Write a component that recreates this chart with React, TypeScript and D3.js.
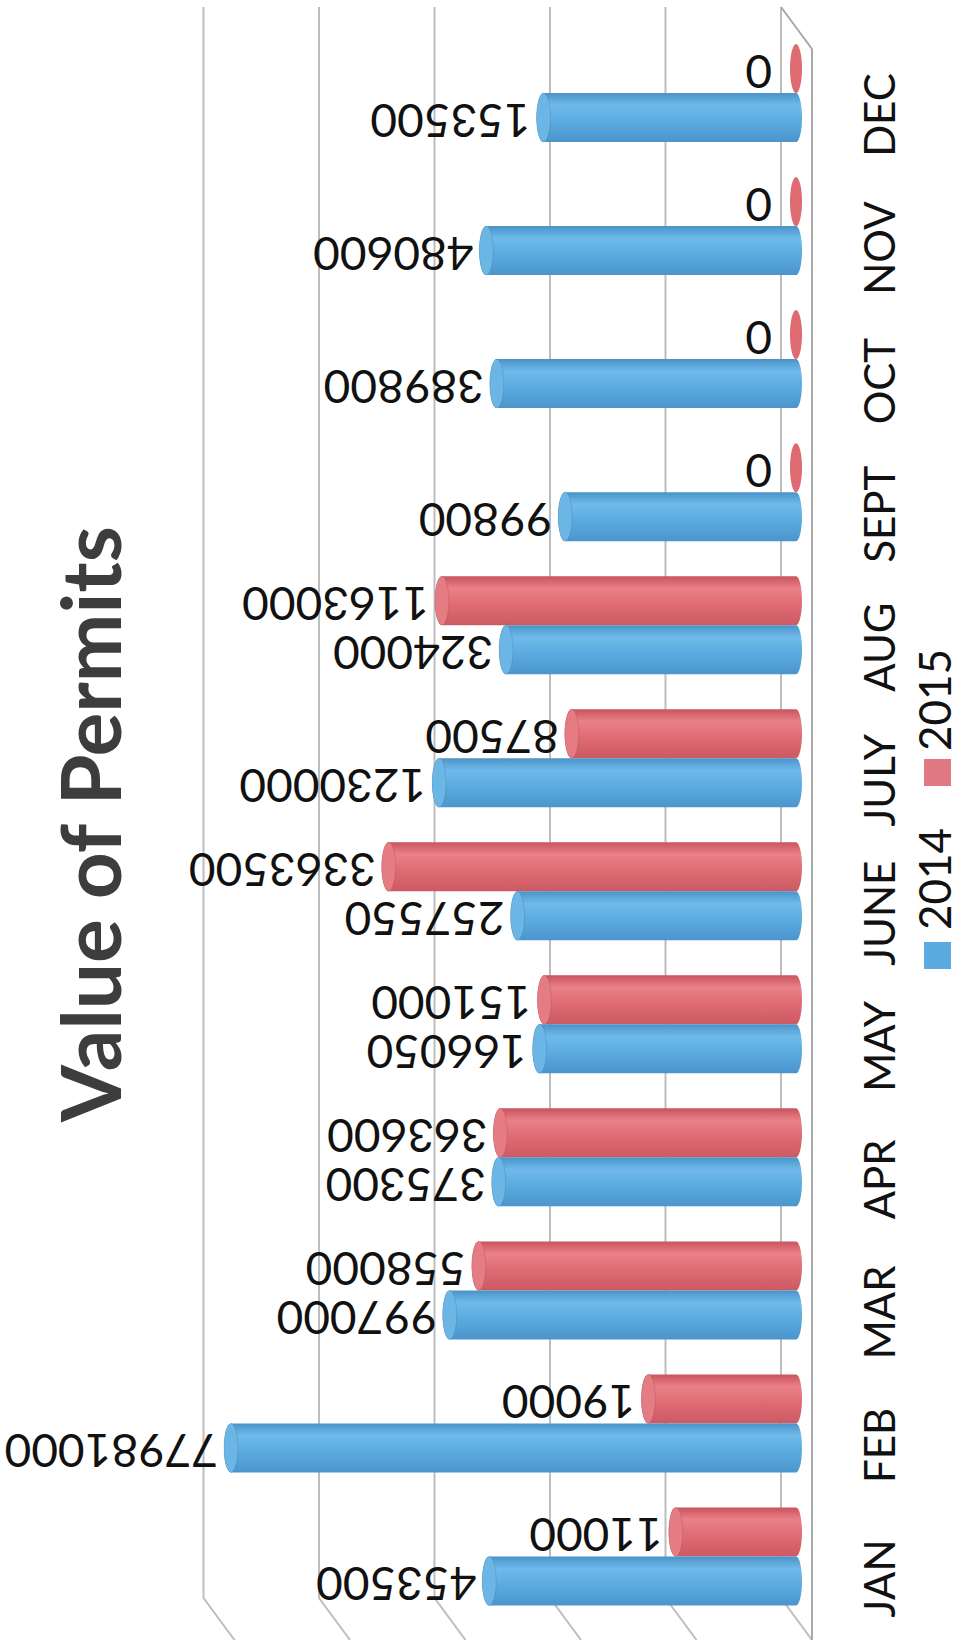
import React from 'react';
import * as d3 from 'd3';

const months = ['JAN', 'FEB', 'MAR', 'APR', 'MAY', 'JUNE', 'JULY', 'AUG', 'SEPT', 'OCT', 'NOV', 'DEC'];
const values2014 = [453500, 77981000, 997000, 375300, 166050, 257550, 1230000, 324000, 99800, 389800, 480600, 153500];
const values2015 = [11000, 19000, 558000, 363600, 151000, 3363500, 87500, 1163000, 0, 0, 0, 0];
const seriesNames = ['2014', '2015'];
const gridTicks = [1e3, 1e4, 1e5, 1e6, 1e7, 1e8];
const title = 'Value of Permits';

const W = 963;
const H = 1648;
const FONT = 'Lato, Carlito, Calibri, sans-serif';

export default function App() {
  // back wall plane (log scale, values grow to the left)
  const xBack = d3.scaleLog().domain([1e3, 1e8]).range([781, 781 - 5 * 115.5]);
  const backTop = 7;
  const backBottom = 1598;
  const depthX = 31;
  const depthY = 42;
  // bar plane (mid depth)
  const barDX = 15;
  const xBar = (v: number) => xBack(v) + barDX;
  const xBase = xBar(1e3);
  const yBar = d3.scaleBand<string>().domain([...months].reverse()).range([26.5, 1623]);
  const bw = 49;
  const ry = bw / 2;
  const rx = 7;

  const colors = { s2014: '#5aaadf', s2015: '#de6a72' };

  const cylinder = (xv: number, yTop: number) => {
    const yBot = yTop + bw;
    return `M${xv},${yTop} L${xBase},${yTop} A${rx - 1},${ry} 0 0 1 ${xBase},${yBot} L${xv},${yBot} A${rx},${ry} 0 0 1 ${xv},${yTop} Z`;
  };

  const bars: JSX.Element[] = [];
  const labels: JSX.Element[] = [];
  months.forEach((m, i) => {
    const center = (yBar(m) as number) + yBar.bandwidth() / 2;
    const series = [
      { key: 's2015', v: values2015[i], yTop: center - bw, grad: 'gRed', cap: '#e57c83' },
      { key: 's2014', v: values2014[i], yTop: center, grad: 'gBlue', cap: '#6cb6e6' },
    ];
    series.forEach((s) => {
      const yc = s.yTop + ry;
      if (s.v > 0) {
        const xv = xBar(s.v);
        bars.push(
          <g key={`${m}-${s.key}`}>
            <path d={cylinder(xv, s.yTop)} fill={`url(#${s.grad})`} />
            <ellipse cx={xv} cy={yc} rx={rx} ry={ry} fill={s.cap} stroke="rgba(0,0,0,0.1)" strokeWidth={1} />
          </g>
        );
        labels.push(
          <text key={`l-${m}-${s.key}`} transform={`translate(${xv - rx - 6},${yc + 4}) rotate(180)`}
            fontFamily={FONT} fontSize={46} fill="#111" dominantBaseline="central" textAnchor="start">
            {String(s.v)}
          </text>
        );
      } else {
        bars.push(
          <ellipse key={`${m}-${s.key}`} cx={xBase} cy={yc} rx={6} ry={ry} fill={(colors as any)[s.key]} />
        );
        labels.push(
          <text key={`l-${m}-${s.key}`} transform={`translate(${xBase - 24},${yc + 4}) rotate(180)`}
            fontFamily={FONT} fontSize={46} fill="#111" dominantBaseline="central" textAnchor="start">
            {String(s.v)}
          </text>
        );
      }
    });
  });

  return (
    <svg width={W} height={H} style={{ position: 'absolute', left: 0, top: 0, background: '#fff' }}>
      <defs>
        <linearGradient id="gBlue" x1="0" y1="0" x2="0" y2="1">
          <stop offset="0" stopColor="#4a93c9" />
          <stop offset="0.25" stopColor="#6fbaea" />
          <stop offset="0.6" stopColor="#5aaadf" />
          <stop offset="1" stopColor="#4b95cc" />
        </linearGradient>
        <linearGradient id="gRed" x1="0" y1="0" x2="0" y2="1">
          <stop offset="0" stopColor="#c9545c" />
          <stop offset="0.25" stopColor="#ea8088" />
          <stop offset="0.6" stopColor="#de6a72" />
          <stop offset="1" stopColor="#cc5a62" />
        </linearGradient>
      </defs>
      <rect x={0} y={0} width={W} height={H} fill="#fff" />

      {/* back wall gridlines + side wall diagonals */}
      {gridTicks.map((t) => {
        const x = xBack(t);
        return (
          <path key={`g${t}`} d={`M${x},${backTop} L${x},${backBottom} L${x + depthX},${backBottom + depthY}`}
            fill="none" stroke="#bdbdbd" strokeWidth={2} />
        );
      })}
      {/* floor edges */}
      <path d={`M${xBack(1e3)},${backTop} L${xBack(1e3) + depthX},${backTop + depthY} L${xBack(1e3) + depthX},${backBottom + depthY}`}
        fill="none" stroke="#a8a8a8" strokeWidth={2} />

      {bars}
      {labels}

      {/* category labels */}
      {months.map((m) => {
        const cy = (yBar(m) as number) + yBar.bandwidth() / 2 + 22;
        return (
          <text key={`c${m}`} transform={`translate(895,${cy}) rotate(-90)`} fontFamily={FONT}
            fontSize={42} fill="#111" textAnchor="middle">{m}</text>
        );
      })}

      {/* title */}
      <text transform="translate(121,824) rotate(-90)" fontFamily={FONT} fontWeight={700} fontSize={82}
        fill="#3d3d3d" textAnchor="middle">{title}</text>

      {/* legend */}
      <rect x={924} y={942} width={27} height={27} fill="#5aabe0" />
      <text transform="translate(951,930) rotate(-90)" fontFamily={FONT} fontSize={44} fill="#111" textAnchor="start">{seriesNames[0]}</text>
      <rect x={924} y={759} width={27} height={27} fill="#e07a82" />
      <text transform="translate(951,751) rotate(-90)" fontFamily={FONT} fontSize={44} fill="#111" textAnchor="start">{seriesNames[1]}</text>
    </svg>
  );
}
